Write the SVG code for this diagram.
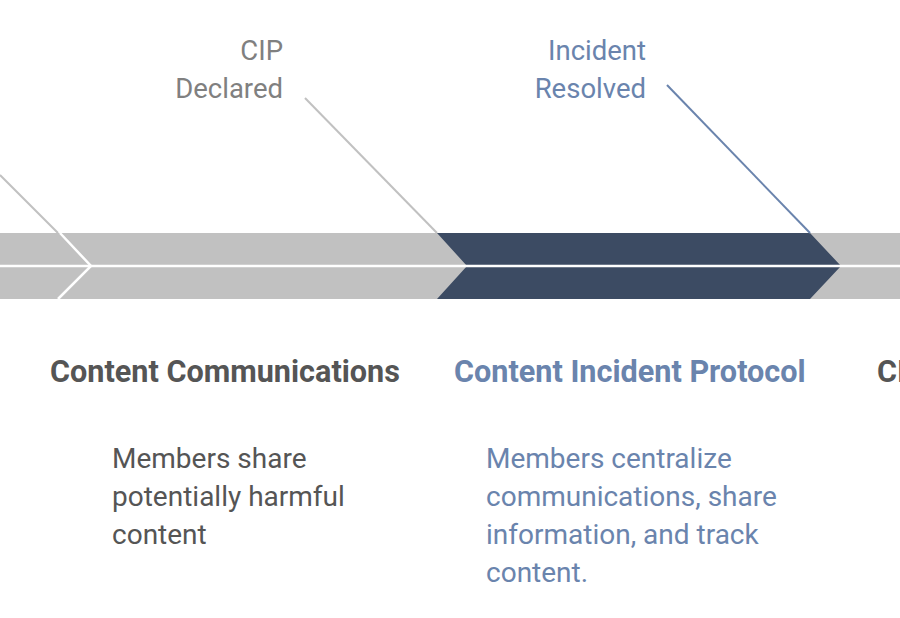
<svg xmlns="http://www.w3.org/2000/svg" width="900" height="618" viewBox="0 0 900 618">
<style>
text{font-family:Roboto,"Liberation Sans",sans-serif}
.lbl{font-size:27.5px;text-anchor:end}
.ttl{font-size:30.6px;font-weight:bold}
.body{font-size:28px}
.gray{fill:#808080}
.blue{fill:#6a84ad}
.dark{fill:#555555}
.band{fill:#c1c1c1}
.act{fill:#3c4b63}
.sep{stroke:#ffffff;stroke-width:2.5;fill:none}
</style>
<rect width="900" height="618" fill="#ffffff"/>
<g id="band">
<rect class="band" x="0" y="233" width="900" height="66"/>
<polygon class="act" points="437,233 810,233 841,266 810,299 437,299 467,266"/>
<polyline class="sep" points="60,233 91,266 58,299"/>
<line class="sep" x1="0" y1="266" x2="900" y2="266"/>
</g>
<g id="connectors">
<line x1="0" y1="175" x2="58" y2="233" stroke="#c1c1c1" stroke-width="2"/>
<line x1="305" y1="98" x2="437" y2="233" stroke="#c1c1c1" stroke-width="2"/>
<line x1="667" y1="85" x2="810" y2="233" stroke="#6a84ad" stroke-width="2"/>
</g>
<g id="cip-declared">
<text class="lbl gray" x="283" y="60">CIP</text>
<text class="lbl gray" x="283" y="98">Declared</text>
</g>
<g id="incident-resolved">
<text class="lbl blue" x="646" y="60">Incident</text>
<text class="lbl blue" x="646" y="98">Resolved</text>
</g>
<g id="content-communications">
<text class="ttl dark" x="50" y="382">Content Communications</text>
<text class="body dark" x="112" y="468">Members share</text>
<text class="body dark" x="112" y="506">potentially harmful</text>
<text class="body dark" x="112" y="544">content</text>
</g>
<g id="content-incident-protocol">
<text class="ttl blue" x="454" y="382">Content Incident Protocol</text>
<text class="body blue" x="486" y="468">Members centralize</text>
<text class="body blue" x="486" y="506">communications, share</text>
<text class="body blue" x="486" y="544">information, and track</text>
<text class="body blue" x="486" y="582">content.</text>
</g>
<g id="next-phase">
<text class="ttl dark" x="877" y="382">CI</text>
</g>
</svg>
